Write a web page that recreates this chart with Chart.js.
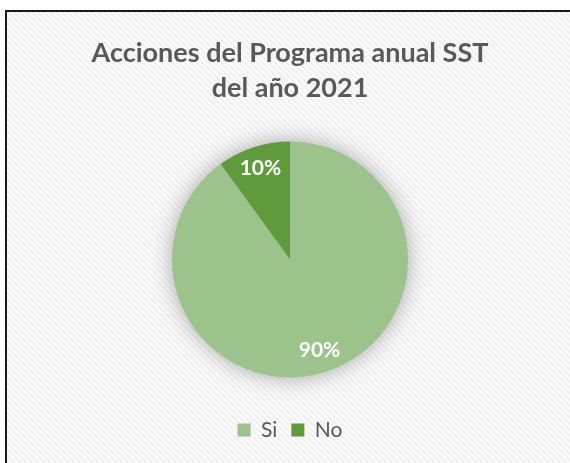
<!DOCTYPE html>
<html>
<head>
<meta charset="utf-8">
<script src="https://cdn.jsdelivr.net/npm/chart.js@4/dist/chart.umd.min.js"></script>
<style>
  html, body { margin: 0; padding: 0; background: #ffffff; }
  #wrap { position: relative; width: 570px; height: 463px; }
</style>
</head>
<body>
<div id="wrap"><canvas id="c" width="570" height="463"></canvas></div>
<script>
const categories = ['Si', 'No'];
const values = [90, 10];
const colors = ['#9DC38C', '#5F9B3D'];
const titleLines = ['Acciones del Programa anual SST', 'del año 2021'];

const FONT = 'Lato, "Open Sans", sans-serif';

function makePattern(ctx) {
  const p = document.createElement('canvas');
  p.width = 6; p.height = 6;
  const g = p.getContext('2d');
  g.fillStyle = '#F1F1F1';
  g.fillRect(0, 0, 6, 6);
  g.fillStyle = '#FAFAFA';
  for (let i = 0; i < 6; i++) {
    g.fillRect(i, (i + 0) % 6, 1, 1);
    g.fillRect(i, (i + 1) % 6, 1, 1);
    g.fillRect(i, (i + 2) % 6, 1, 1);
  }
  return ctx.createPattern(p, 'repeat');
}

const bgPlugin = {
  id: 'bg',
  beforeDraw(chart) {
    const ctx = chart.ctx;
    ctx.save();
    ctx.fillStyle = '#ffffff';
    ctx.fillRect(0, 0, chart.width, chart.height);
    ctx.fillStyle = makePattern(ctx);
    ctx.fillRect(7, 11, chart.width - 7, chart.height - 11);
    ctx.fillStyle = '#1a1a1a';
    ctx.fillRect(5, 10, chart.width - 5, 2);
    ctx.fillRect(5, 10, 2, chart.height - 10);
    ctx.restore();
  }
};

const shadowPlugin = {
  id: 'pieShadow',
  beforeDatasetsDraw(chart) {
    const meta = chart.getDatasetMeta(0);
    if (!meta.data.length) return;
    const a = meta.data[0];
    const ctx = chart.ctx;
    ctx.save();
    ctx.shadowColor = 'rgba(0,0,0,0.35)';
    ctx.shadowBlur = 22;
    ctx.shadowOffsetX = 0;
    ctx.shadowOffsetY = 0;
    ctx.fillStyle = '#cccccc';
    ctx.beginPath();
    ctx.arc(a.x, a.y, a.outerRadius - 1, 0, Math.PI * 2);
    ctx.fill();
    ctx.restore();
  }
};

const labelPlugin = {
  id: 'pieLabels',
  afterDatasetsDraw(chart) {
    const meta = chart.getDatasetMeta(0);
    const data = chart.data.datasets[0].data;
    const total = data.reduce((s, v) => s + v, 0);
    const ctx = chart.ctx;
    ctx.save();
    ctx.fillStyle = '#ffffff';
    ctx.font = 'bold 21px ' + FONT;
    ctx.textAlign = 'center';
    ctx.textBaseline = 'middle';
    meta.data.forEach((arc, i) => {
      const mid = (arc.startAngle + arc.endAngle) / 2;
      const r = arc.outerRadius * 0.81;
      const x = arc.x + Math.cos(mid) * r;
      const y = arc.y + Math.sin(mid) * r;
      ctx.fillText(Math.round(data[i] / total * 100) + '%', x, y);
    });
    ctx.restore();
  }
};

new Chart(document.getElementById('c'), {
  type: 'pie',
  data: {
    labels: categories,
    datasets: [{
      data: values,
      backgroundColor: colors,
      borderWidth: 0,
      radius: 118
    }]
  },
  options: {
    responsive: false,
    animation: false,
    layout: { padding: { top: 10, bottom: 12.5, left: 20, right: 10 } },
    plugins: {
      title: {
        display: true,
        text: titleLines,
        color: '#595959',
        font: { family: FONT, size: 27, weight: 'bold', lineHeight: 1.32 },
        padding: { top: 25, bottom: 7 }
      },
      legend: {
        position: 'bottom',
        labels: {
          boxWidth: 13,
          boxHeight: 13,
          padding: 14,
          color: '#595959',
          font: { family: FONT, size: 21 }
        }
      },
      tooltip: { enabled: false }
    }
  },
  plugins: [bgPlugin, shadowPlugin, labelPlugin]
});
</script>
</body>
</html>
